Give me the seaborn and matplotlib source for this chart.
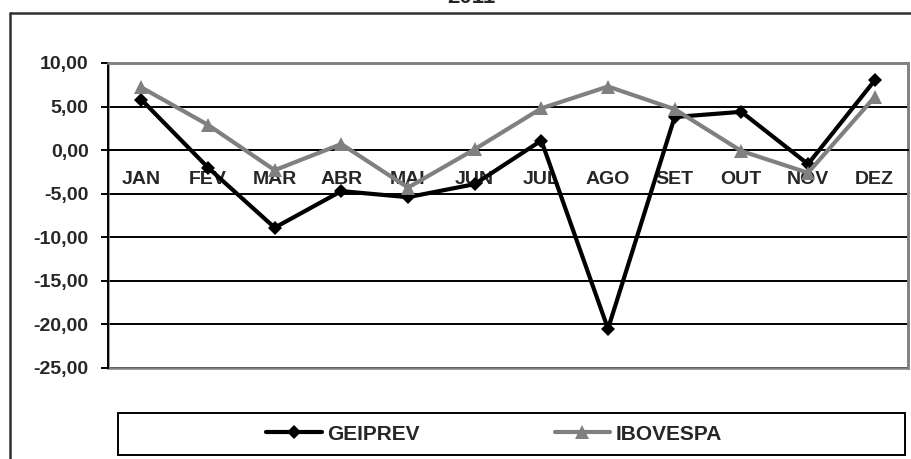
import numpy as np
import pandas as pd
import matplotlib
matplotlib.use("Agg")
import matplotlib.pyplot as plt
from matplotlib.ticker import FuncFormatter
from matplotlib.lines import Line2D
from matplotlib.patches import Rectangle
import seaborn as sns

meses = ["JAN", "FEV", "MAR", "ABR", "MAI", "JUN", "JUL", "AGO", "SET", "OUT", "NOV", "DEZ"]
geiprev = [5.8, -2.0, -8.9, -4.7, -5.4, -3.9, 1.1, -20.5, 3.8, 4.4, -1.6, 8.0]
ibovespa = [7.2, 2.9, -2.3, 0.7, -4.3, 0.1, 4.8, 7.3, 4.7, -0.1, -2.6, 6.1]
series = ["GEIPREV", "IBOVESPA"]
yticks = [-25, -20, -15, -10, -5, 0, 5, 10]
titulo = "2011"

df = pd.DataFrame({
    "mes": meses * 2,
    "valor": geiprev + ibovespa,
    "serie": [series[0]] * 12 + [series[1]] * 12,
})

sns.set_style("white")
plt.rcParams["font.family"] = ["Liberation Sans", "DejaVu Sans"]
plt.rcParams["font.weight"] = "bold"

fig = plt.figure(figsize=(9.12, 4.59), dpi=100)
ax = fig.add_axes([108 / 912, 1 - 368 / 459, 800 / 912, 305 / 459])

sns.lineplot(data=df, x="mes", y="valor", hue="serie", style="serie",
             markers=["D", "^"], dashes=False, palette=["black", "#808080"],
             linewidth=3.0, markersize=7.5, markeredgewidth=0, ax=ax, legend=False,
             zorder=5)
ax.lines[1].set_markersize(9.5)

ax.set_xlim(-0.5, 11.5)
ax.set_ylim(-25, 10)
ax.set_yticks(yticks)
ax.yaxis.set_major_formatter(FuncFormatter(lambda v, p: f"{v:.2f}".replace(".", ",")))
ax.set_xlabel("")
ax.set_ylabel("")

ax.yaxis.grid(True, color="black", linewidth=1.4)
ax.set_axisbelow(True)

ax.spines["bottom"].set_position(("data", 0))
ax.spines["bottom"].set_color("black")
ax.spines["bottom"].set_linewidth(1.4)
ax.spines["left"].set_color("black")
ax.spines["left"].set_linewidth(1.4)
for s in ["top", "right"]:
    ax.spines[s].set_color("#808080")
    ax.spines[s].set_linewidth(1.8)
ax.add_patch(Rectangle((0, 0), 1, 1, transform=ax.transAxes, fill=False,
                       edgecolor="#808080", linewidth=1.8, zorder=1, clip_on=False))

ax.set_xticks(range(12))
ax.set_xticklabels(meses)
ax.set_xticks(np.arange(-0.5, 12, 1), minor=True)
ax.tick_params(axis="x", which="major", length=0, pad=15, labelsize=14)
ax.tick_params(axis="x", which="minor", length=4, width=1.4, color="black", direction="out")
ax.tick_params(axis="y", which="major", length=5, width=1.4, color="black",
               direction="out", left=True, labelsize=14, pad=9)
for lab in ax.get_xticklabels() + ax.get_yticklabels():
    lab.set_fontweight("bold")

fig.text(471 / 912, 1 - 3 / 459, titulo, ha="center", va="baseline",
         fontsize=16, fontweight="bold")

# outer chart frame
fig.add_artist(Line2D([10 / 912, 10 / 912], [0, 1 - 13 / 459], transform=fig.transFigure,
                      color="#303030", linewidth=1.8))
fig.add_artist(Line2D([10 / 912, 1], [1 - 13 / 459, 1 - 13 / 459], transform=fig.transFigure,
                      color="#303030", linewidth=1.8))

# legend box
fig.add_artist(Rectangle((118 / 912, 1 - 455 / 459), 787 / 912, 42 / 459,
                         transform=fig.transFigure, fill=False, edgecolor="black",
                         linewidth=1.4))
leg = fig.legend(handles=[ax.lines[0], ax.lines[1]], labels=series, loc="center",
                 bbox_to_anchor=(494 / 912, 1 - 434 / 459), ncol=2, frameon=False,
                 handlelength=2.65, handletextpad=0.25, columnspacing=6.5,
                 prop={"size": 15, "weight": "bold"})

fig.savefig("out.png", dpi=100)
